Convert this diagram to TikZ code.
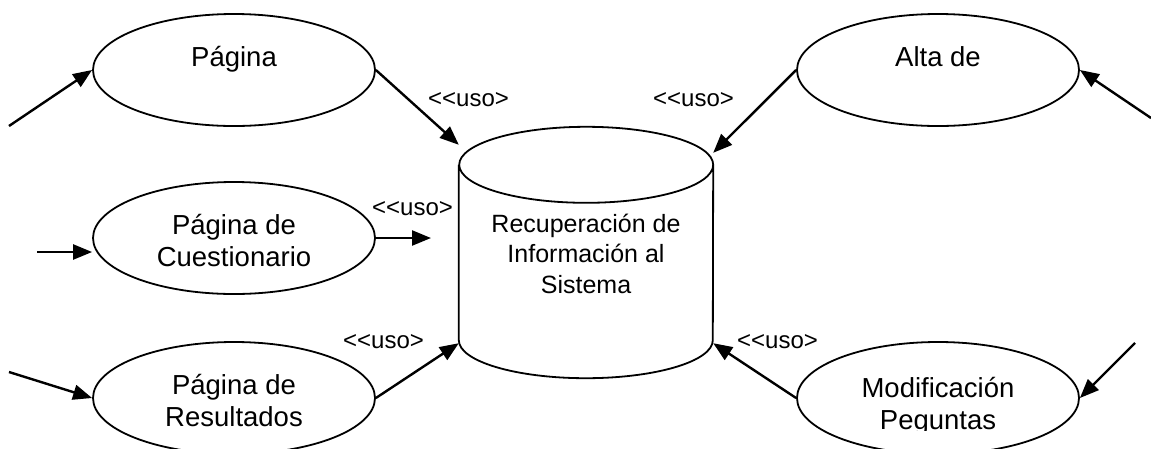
\documentclass[tikz,border=0pt]{standalone}
\usepackage{fontspec}
\setmainfont{Liberation Sans}
\usetikzlibrary{arrows.meta,shapes.geometric}
\begin{document}
\begin{tikzpicture}[x=1pt,y=-1pt,
  uc/.style={draw, line width=1.8pt, ellipse, minimum width=282pt, minimum height=112pt, inner sep=0pt},
  uctext/.style={align=center, inner sep=0pt, font=\fontsize{27.5}{32}\selectfont},
  dbtext/.style={align=center, inner sep=0pt, font=\fontsize{25}{30.5}\selectfont},
  rel/.style={line width=2.4pt, -{Triangle[length=19pt,width=15pt]}},
  uso/.style={anchor=base west, inner sep=0pt, font=\fontsize{24}{28}\selectfont}]
\clip (0,0) rectangle (1151,448);

% use cases
\node[uc] (pag) at (234,70) {};
\node[uctext] (pagT) at ([yshift=-6pt]pag.center) {\strut Página\\\strut};
\node[uc] (alta) at (938,70) {};
\node[uctext] (altaT) at ([yshift=-6pt]alta.center) {\strut Alta de\\\strut};
\node[uc] (cue) at (234,238) {};
\node[uctext] (cueT) at ([yshift=-6pt]cue.center) {\strut Página de\\\strut Cuestionario};
\node[uc] (res) at (234,398) {};
\node[uctext] (resT) at ([yshift=-6pt]res.center) {\strut Página de\\\strut Resultados};
\node[uc] (mod) at (938,398) {};
\begin{scope}
\clip (780,300) rectangle (1100,430);
\node[uctext] (modT) at ([yshift=-9pt]mod.center) {\strut Modificación\\\strut Peguntas};
\end{scope}

% database cylinder
\node[minimum width=254pt, minimum height=251pt, inner sep=0pt] (db) at (586,252.5) {};
\draw[line width=1.8pt] ([yshift=-38pt]db.north west) -- ([yshift=38pt]db.south west)
  arc[start angle=180, end angle=360, x radius=127pt, y radius=38pt]
  -- ([yshift=-38pt]db.north east)
  arc[start angle=0, end angle=360, x radius=127pt, y radius=38pt];
\node[dbtext] (dbT) at (586,256.4) {\strut Recuperación de\\\strut Información al\\\strut Sistema};

% connectors
\coordinate (s1) at (9,126);
\draw[rel] (s1) -- (pag.west);
\draw[rel] (pag.east) -- ([yshift=-18pt]db.north west);
\draw[rel] (alta.west) -- ([yshift=-26pt]db.north east);
\coordinate (s2) at (1151,118);
\draw[rel] (s2) -- (alta.east);
\coordinate (s3) at (37,252);
\draw[rel] (s3) -- ([yshift=-14pt]cue.west);
\coordinate (t3) at (431,238);
\draw[rel] (cue.east) -- (t3);
\coordinate (s4) at (9,372);
\draw[rel] (s4) -- (res.west);
\draw[rel] (res.east) -- ([yshift=35pt]db.south west);
\draw[rel] (mod.west) -- ([yshift=35pt]db.south east);
\coordinate (s5) at (1135,343);
\draw[rel] (s5) -- (mod.east);

% labels
\node[uso] (u1) at (428,106) {<\kern0pt<uso>};
\node[uso] (u2) at (653,106) {<\kern0pt<uso>};
\node[uso] (u3) at (372,215) {<\kern0pt<uso>};
\node[uso] (u4) at (343,348) {<\kern0pt<uso>};
\node[uso] (u5) at (737,348) {<\kern0pt<uso>};
\end{tikzpicture}
\end{document}
